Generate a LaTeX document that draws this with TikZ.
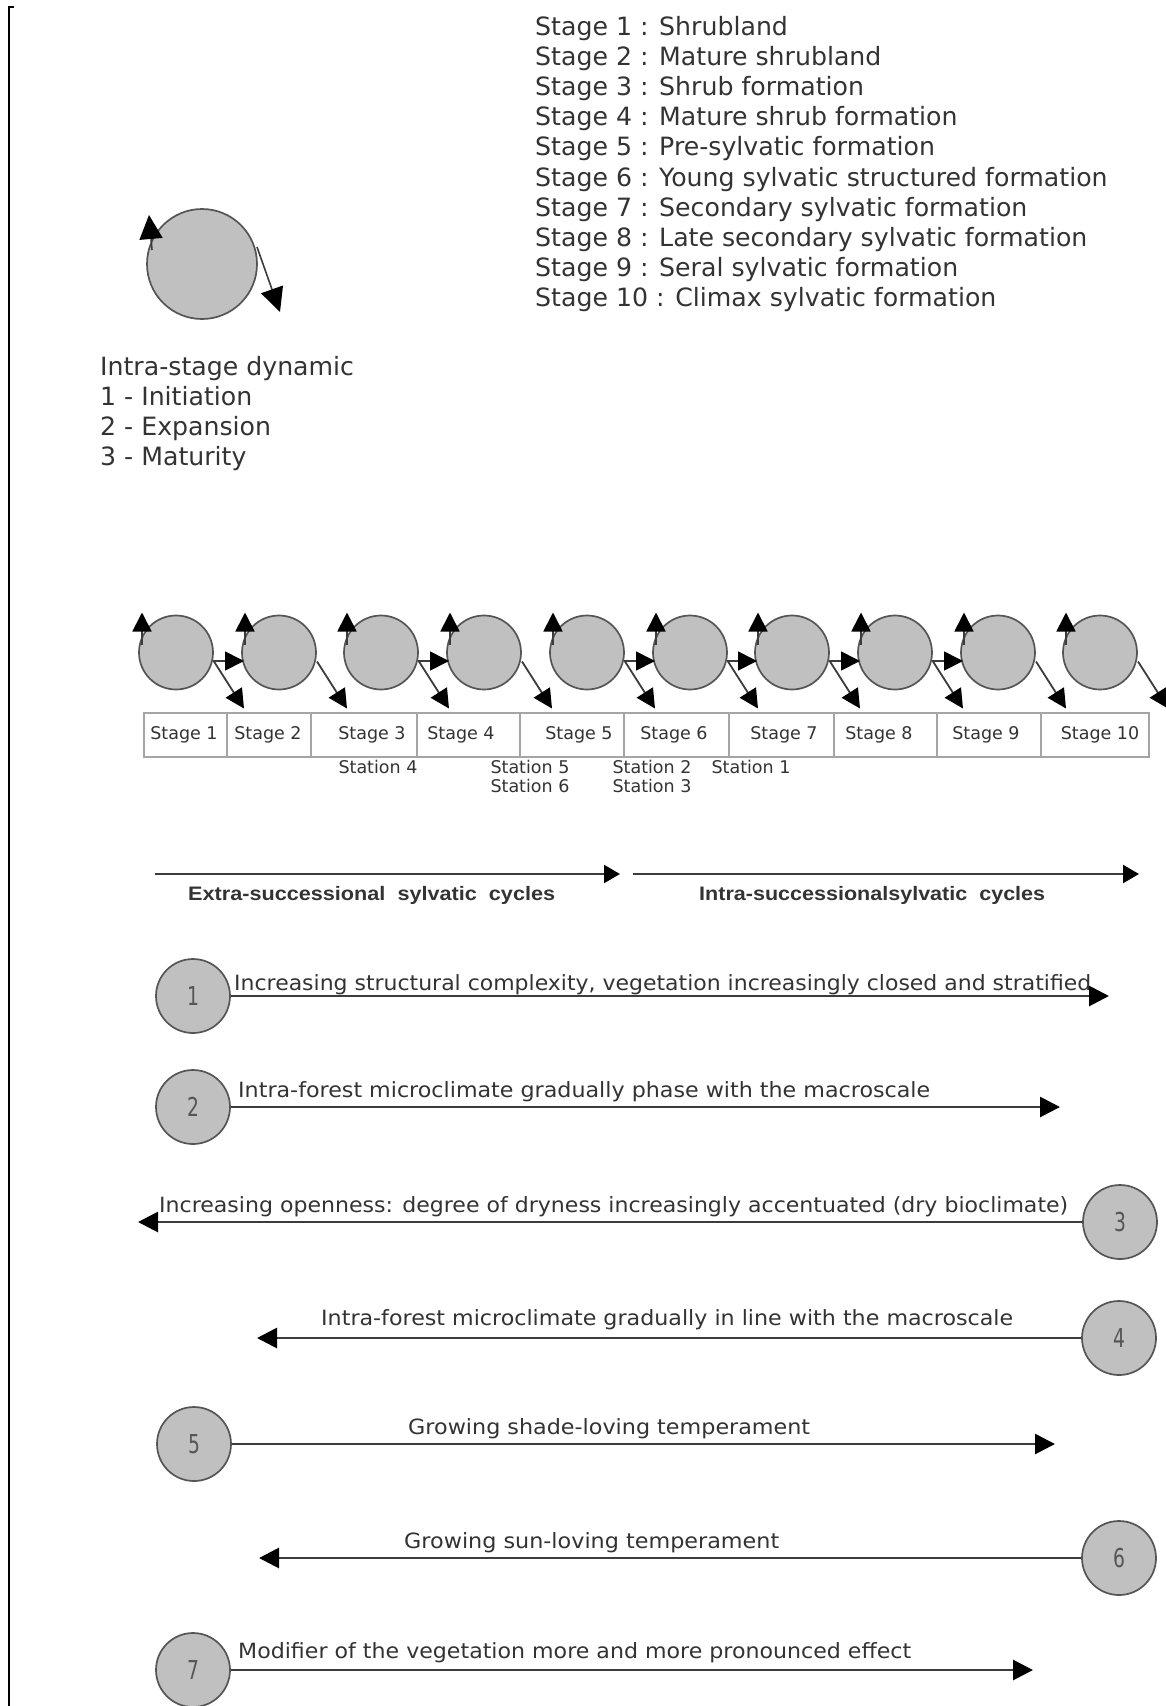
\documentclass[tikz,border=0pt]{standalone}
\usepackage{fontspec}
\setmainfont{DejaVu Sans}
\newfontfamily\boldsans{Liberation Sans}
\usetikzlibrary{arrows.meta,calc}
\definecolor{circfill}{RGB}{192,192,192}
\definecolor{circline}{RGB}{85,85,85}
\definecolor{txt}{RGB}{51,51,51}
\definecolor{tbl}{RGB}{165,165,165}
\definecolor{arr}{RGB}{60,60,60}
\newlength\fitlen
\newcommand{\fitw}[2]{\settowidth{\fitlen}{#2}\pgfmathsetmacro\fitfac{#1/\fitlen}\scalebox{\fitfac}[1]{#2}}
\begin{document}
\begin{tikzpicture}[x=1pt,y=-1pt,
  stagecirc/.style={circle,draw=circline,line width=1.7pt,fill=circfill,minimum size=74pt,inner sep=0pt},
  numcirc/.style={circle,draw=circline,line width=1.7pt,fill=circfill,minimum size=74pt,inner sep=0pt,text=circline,font=\fontsize{26}{26}\selectfont},
  smallarr/.style={-{Triangle[length=19pt,width=19pt,color=black]},line width=1.8pt,draw=arr},
  legarr/.style={-{Triangle[length=24pt,width=23pt,color=black]},line width=1.6pt,draw=arr},
  bigarr/.style={-{Triangle[length=20pt,width=20pt,color=black]},line width=2.8pt,draw=arr},
  cycarr/.style={-{Triangle[length=16pt,width=18pt,color=black]},line width=2.2pt,draw=arr},
  listtxt/.style={anchor=base west,inner sep=0pt,text=txt,font=\fontsize{25.2}{29}\selectfont},
  celltxt/.style={anchor=center,inner sep=0pt,text=txt,font=\fontsize{17.5}{20}\selectfont},
  rowtxt/.style={anchor=base west,inner sep=0pt,text=txt},
]
\useasboundingbox (0,0) rectangle (1166,1706);
\fill[white] (0,0) rectangle (1166,1706);
% left bracket
\draw[line width=2.2pt,line cap=rect] (13,7) -- (9,7) -- (9,1706);

% stage list
\foreach \t [count=\i] in {Shrubland, Mature shrubland, Shrub formation, Mature shrub formation, Pre-sylvatic formation, Young sylvatic structured formation, Secondary sylvatic formation, Late secondary sylvatic formation, Seral sylvatic formation, Climax sylvatic formation}
  \node[listtxt] (s\i) at (535,{35+30.2*(\i-1)}) {Stage \i\ : \t};

% legend
\node[stagecirc,minimum size=110pt] (lc) at (202,264) {};
\draw[legarr] ($(lc.center)+(-50,-14)$) -- ($(lc.center)+(-53,-49)$);
\draw[legarr] ($(lc.center)+(55,-17)$) -- ($(lc.center)+(78,48)$);
\node[listtxt] (l0) at (100,375) {Intra-stage dynamic};
\node[listtxt] (l1) at (100,405) {1 - Initiation};
\node[listtxt] (l2) at (100,435) {2 - Expansion};
\node[listtxt] (l3) at (100,465) {3 - Maturity};

% stage circles
\foreach \x [count=\i] in {176,279,381,484,587,690,792,895,998,1100}
  \node[stagecirc] (c\i) at (\x,652.5) {};
\foreach \i in {1,...,10}{
  \draw[smallarr] ($(c\i.center)+(-34,-8)$) -- ($(c\i.center)+(-34,-40)$);
  \draw[smallarr] ($(c\i.center)+(38,9)$) -- ($(c\i.center)+(68,56)$);
}
\foreach \a/\b in {1/2,3/4,5/6,6/7,7/8,8/9}
  \draw[smallarr] ($(c\a.center)+(37,8.5)$) -- ($(c\b.center)+(-35,8.5)$);

% table
\draw[tbl,line width=1.5pt] (144,713) rectangle (1149,757);
\foreach \x in {227,311,417,520,624,729,834,937,1041}
  \draw[tbl,line width=1.5pt] (\x,713) -- (\x,757);
\foreach \x [count=\i] in {184,268,372,461,579,674,784,879,986,1100}
  \node[celltxt] (st\i) at (\x,735) {Stage \i};
\node[celltxt] (sta4) at (378,767) {Station 4};
\node[celltxt] (sta5) at (530,767) {Station 5};
\node[celltxt] (sta6) at (530,786) {Station 6};
\node[celltxt] (sta2) at (652,767) {Station 2};
\node[celltxt] (sta3) at (652,786) {Station 3};
\node[celltxt] (sta1) at (751,767) {Station 1};

% cycles
\coordinate (ea) at (155,874); \coordinate (eb) at (620,874);
\coordinate (ia) at (633,874); \coordinate (ib) at (1139,874);
\draw[cycarr] (ea) -- (eb);
\draw[cycarr] (ia) -- (ib);
\node[rowtxt] (extra) at (188,900) {\fitw{367pt}{\boldsans\bfseries\fontsize{19.5}{20}\selectfont Extra-successional\ \ sylvatic\ \ cycles}};
\node[rowtxt] (intra) at (699,900) {\fitw{346pt}{\boldsans\bfseries\fontsize{19.5}{20}\selectfont Intra-successionalsylvatic\ \ cycles}};

% numbered rows
\node[numcirc] (n1) at (193,996) {\scalebox{0.72}[1]{1}};
\coordinate (t1) at (1109,996);
\draw[bigarr] (n1.east) -- (t1);
\node[rowtxt] (r1) at (234,990) {\fitw{857pt}{\fontsize{21}{24}\selectfont Increasing structural complexity, vegetation increasingly closed and stratified}};

\node[numcirc] (n2) at (193,1107) {\scalebox{0.72}[1]{2}};
\coordinate (t2) at (1060,1107);
\draw[bigarr] (n2.east) -- (t2);
\node[rowtxt] (r2) at (238,1097) {\fitw{692pt}{\fontsize{21}{24}\selectfont Intra-forest microclimate gradually phase with the macroscale}};

\node[numcirc] (n3) at (1120,1222) {\scalebox{0.72}[1]{3}};
\coordinate (t3) at (138,1222);
\draw[bigarr] (n3.west) -- (t3);
\node[rowtxt] (r3) at (159,1212) {\fitw{909pt}{\fontsize{21}{24}\selectfont Increasing openness: degree of dryness increasingly accentuated (dry bioclimate)}};

\node[numcirc] (n4) at (1119,1338) {\scalebox{0.72}[1]{4}};
\coordinate (t4) at (257,1338);
\draw[bigarr] (n4.west) -- (t4);
\node[rowtxt] (r4) at (321,1325) {\fitw{692pt}{\fontsize{21}{24}\selectfont Intra-forest microclimate gradually in line with the macroscale}};

\node[numcirc] (n5) at (194,1444) {\scalebox{0.72}[1]{5}};
\coordinate (t5) at (1055,1444);
\draw[bigarr] (n5.east) -- (t5);
\node[rowtxt] (r5) at (408,1434) {\fitw{402pt}{\fontsize{21}{24}\selectfont Growing shade-loving temperament}};

\node[numcirc] (n6) at (1119,1558) {\scalebox{0.72}[1]{6}};
\coordinate (t6) at (259,1558);
\draw[bigarr] (n6.west) -- (t6);
\node[rowtxt] (r6) at (404,1548) {\fitw{375pt}{\fontsize{21}{24}\selectfont Growing sun-loving temperament}};

\node[numcirc] (n7) at (193,1670) {\scalebox{0.72}[1]{7}};
\coordinate (t7) at (1033,1670);
\draw[bigarr] (n7.east) -- (t7);
\node[rowtxt] (r7) at (238,1658) {\fitw{673pt}{\fontsize{21}{24}\selectfont Modifier of the vegetation more and more pronounced effect}};
\end{tikzpicture}
\end{document}
